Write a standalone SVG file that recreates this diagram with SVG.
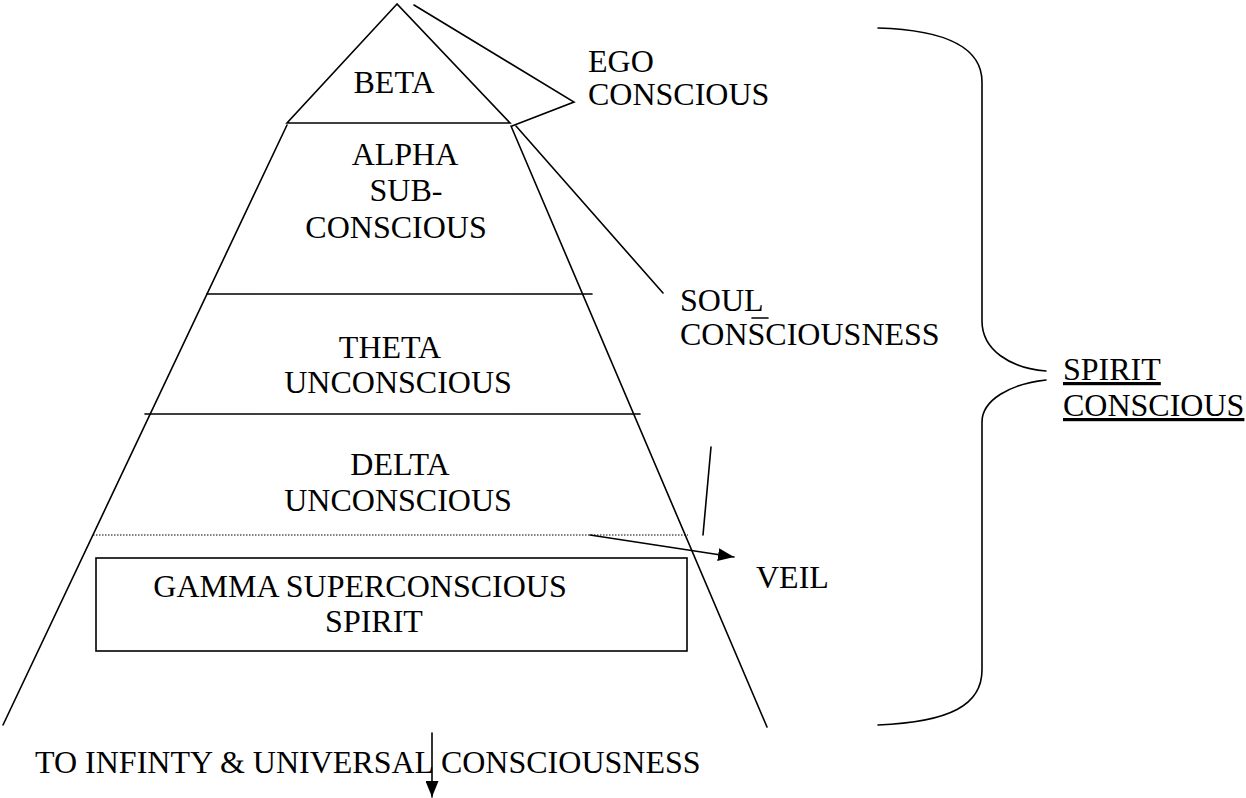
<svg xmlns="http://www.w3.org/2000/svg" width="1246" height="798" viewBox="0 0 1246 798">
<style>
.ln{stroke:#000;stroke-width:1.6;fill:none;stroke-linecap:round;stroke-linejoin:miter}
.t{font-family:"Liberation Serif","Times New Roman",serif;font-size:32px;fill:#000}
.m{text-anchor:middle}
.u{text-decoration:underline}
</style>
<defs>
<marker id="arrow" markerUnits="userSpaceOnUse" markerWidth="17" markerHeight="13" refX="16" refY="6.5" orient="auto">
<path d="M0,0 L16,6.5 L0,13 z" fill="#000"/>
</marker>
</defs>
<rect width="1246" height="798" fill="#fff"/>

<g id="pyramid">
<polygon class="ln" points="397,4 287,123 510,123"/>
<line class="ln" x1="287" y1="125" x2="3" y2="725"/>
<line class="ln" x1="511" y1="126" x2="767" y2="727"/>
<line class="ln" x1="207" y1="294" x2="592" y2="294"/>
<line class="ln" x1="145" y1="414" x2="640" y2="414"/>
<line x1="93" y1="535" x2="688" y2="535" stroke="#000" stroke-width="1.2" stroke-dasharray="1.5 1.5"/>
</g>

<g id="beta"><text class="t m" x="394" y="93">BETA</text></g>
<g id="alpha">
<text class="t m" x="405" y="165">ALPHA</text>
<text class="t m" x="406" y="201">SUB-</text>
<text class="t m" x="396" y="238">CONSCIOUS</text>
</g>
<g id="theta">
<text class="t m" x="390" y="358">THETA</text>
<text class="t m" x="398" y="393">UNCONSCIOUS</text>
</g>
<g id="delta">
<text class="t m" x="400" y="475">DELTA</text>
<text class="t m" x="398" y="511">UNCONSCIOUS</text>
</g>
<g id="gamma">
<rect class="ln" x="96" y="558" width="591" height="93"/>
<text class="t m" x="360" y="597">GAMMA SUPERCONSCIOUS</text>
<text class="t m" x="374" y="632">SPIRIT</text>
</g>
<g id="ego">
<text class="t" x="588" y="72">EGO</text>
<text class="t" x="588" y="105">CONSCIOUS</text>
</g>
<g id="soul">
<text class="t" x="680" y="311">SOUL</text>
<text class="t" x="680" y="345">CONSCIOUSNESS</text>
<line class="ln" x1="752" y1="318" x2="768" y2="318"/>
</g>
<g id="veil"><text class="t" x="756" y="588">VEIL</text></g>
<g id="spirit">
<text class="t u" x="1063" y="380">SPIRIT</text>
<text class="t u" x="1063" y="416">CONSCIOUS</text>
</g>
<g id="infinity"><text class="t" x="35" y="773">TO INFINTY &amp; UNIVERSAL CONSCIOUSNESS</text></g>

<g id="connectors">
<polyline class="ln" points="414,5 574,102 512,126"/>
<line class="ln" x1="516" y1="126" x2="663" y2="293"/>
<line class="ln" x1="711" y1="447" x2="703" y2="535"/>
<line class="ln" x1="590" y1="535" x2="734" y2="557" marker-end="url(#arrow)"/>
<line class="ln" x1="432" y1="733" x2="432" y2="797" marker-end="url(#arrow)"/>
<path class="ln" d="M878,28 C950,30 982,50 982,82 L982,321 C982,350 1010,368 1046,371"/>
<path class="ln" d="M1046,380 C1010,384 982,400 982,422 L982,670 C982,705 950,722 878,725"/>
</g>
</svg>
